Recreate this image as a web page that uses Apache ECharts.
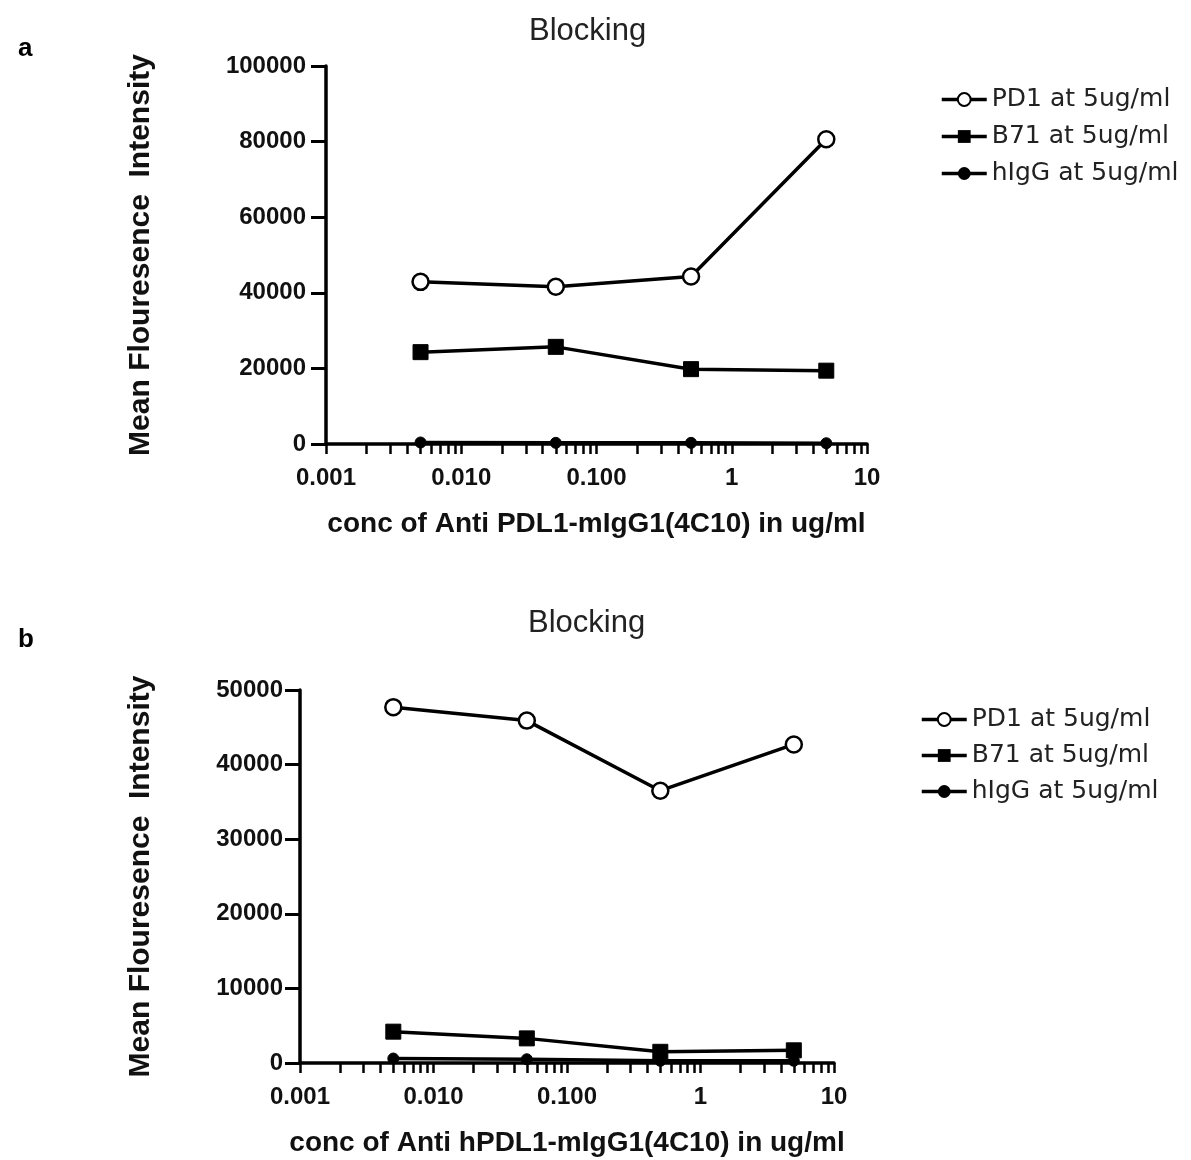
<!DOCTYPE html>
<html>
<head>
<meta charset="utf-8">
<title>Blocking</title>
<script src="https://cdn.jsdelivr.net/npm/echarts@6/dist/echarts.min.js"></script>
<style>
  html, body { margin: 0; padding: 0; background: #fff; }
  #chart { width: 1191px; height: 1160px; }
</style>
</head>
<body>
<div id="chart"></div>
<script>
// concentrations (ug/ml) on the log x axis
const conc = [0.005, 0.05, 0.5, 5];
const xTickLabels = ['0.001', '0.010', '0.100', '1', '10'];
const minorTickValues = [
  0.001, 0.002, 0.003, 0.004, 0.005, 0.006, 0.007, 0.008, 0.009,
  0.01, 0.02, 0.03, 0.04, 0.05, 0.06, 0.07, 0.08, 0.09,
  0.1, 0.2, 0.3, 0.4, 0.5, 0.6, 0.7, 0.8, 0.9,
  1, 2, 3, 4, 5, 6, 7, 8, 9, 10
];
const seriesNames = ['PD1 at 5ug/ml', 'B71 at 5ug/ml', 'hIgG at 5ug/ml'];

// panel a
const pd1A = [42900, 41600, 44300, 80600];
const b71A = [24300, 25700, 19800, 19400];
const higgA = [400, 300, 300, 200];

// panel b
const pd1B = [47700, 45900, 36500, 42700];
const b71B = [4200, 3300, 1500, 1700];
const higgB = [600, 500, 300, 300];

const font = '"Liberation Sans", Arial, sans-serif';

function pairs(values) {
  return values.map((v, i) => [conc[i], v]);
}

function buildSeries(idx, data) {
  const common = {
    type: 'line',
    xAxisIndex: idx,
    yAxisIndex: idx,
    lineStyle: { color: '#000', width: 3.5 },
    itemStyle: { color: '#000', borderColor: '#000' },
    animation: false,
    z: 3
  };
  return [
    Object.assign({}, common, {
      name: seriesNames[0],
      data: pairs(data[0]),
      symbol: 'circle',
      symbolSize: 16,
      itemStyle: { color: '#fff', borderColor: '#000', borderWidth: 2.5 },
      z: 4
    }),
    Object.assign({}, common, {
      name: seriesNames[1],
      data: pairs(data[1]),
      symbol: 'rect',
      symbolSize: 15
    }),
    Object.assign({}, common, {
      name: seriesNames[2],
      data: pairs(data[2]),
      symbol: 'circle',
      symbolSize: 11
    })
  ];
}

function buildXAxis(idx, name) {
  return {
    type: 'log',
    logBase: 10,
    gridIndex: idx,
    min: 0.001,
    max: 10,
    name: name,
    nameLocation: 'middle',
    nameGap: 66,
    nameTextStyle: { fontFamily: font, fontSize: 28, fontWeight: 'bold', color: '#111' },
    axisLine: { lineStyle: { color: '#000', width: 3.5 } },
    axisTick: {
      show: true,
      inside: false,
      length: 10,
      customValues: minorTickValues,
      lineStyle: { color: '#000', width: 2.5 }
    },
    axisLabel: {
      margin: 22,
      fontFamily: font,
      fontSize: 24,
      fontWeight: 'bold',
      color: '#111',
      formatter: function (value, index) {
        return xTickLabels[index];
      }
    },
    splitLine: { show: false },
    minorSplitLine: { show: false }
  };
}

function buildYAxis(idx, max, interval, gap, labelMargin) {
  return {
    type: 'value',
    gridIndex: idx,
    min: 0,
    max: max,
    interval: interval,
    name: 'Mean Flouresence  Intensity',
    nameLocation: 'middle',
    nameGap: gap,
    nameTextStyle: { fontFamily: font, fontSize: 30, fontWeight: 'bold', color: '#111' },
    axisLine: { show: true, onZero: false, lineStyle: { color: '#000', width: 3.5 } },
    axisTick: { show: true, length: 15, lineStyle: { color: '#000', width: 3 } },
    axisLabel: {
      margin: labelMargin,
      fontFamily: font,
      fontSize: 24,
      fontWeight: 'bold',
      color: '#111',
      formatter: function (value) {
        return String(value);
      }
    },
    splitLine: { show: false }
  };
}

function buildLegend(left, top, gap, seriesIdx) {
  return {
    orient: 'vertical',
    left: left,
    top: top,
    itemGap: gap,
    itemWidth: 45,
    itemHeight: 16,
    data: seriesNames,
    lineStyle: { width: 3.5 },
    textStyle: { fontFamily: '"DejaVu Sans", sans-serif', fontSize: 25, color: '#222' },
    seriesIndex: seriesIdx
  };
}

const chart = echarts.init(document.getElementById('chart'), null, { renderer: 'canvas' });

const option = {
  backgroundColor: '#fff',
  animation: false,
  title: [
    { text: 'Blocking', left: 524, top: 11, textStyle: { fontFamily: font, fontSize: 31, fontWeight: 'normal', color: '#222' } },
    { text: 'Blocking', left: 523, top: 603, textStyle: { fontFamily: font, fontSize: 31, fontWeight: 'normal', color: '#222' } },
    { text: 'a', left: 13, top: 31, textStyle: { fontFamily: font, fontSize: 26, fontWeight: 'bold', color: '#000' } },
    { text: 'b', left: 13, top: 622, textStyle: { fontFamily: font, fontSize: 26, fontWeight: 'bold', color: '#000' } }
  ],
  legend: [
    buildLegend(935, 82, 12, [0, 1, 2]),
    buildLegend(915, 702, 11, [3, 4, 5])
  ],
  grid: [
    { left: 326, top: 66, width: 541, height: 378 },
    { left: 300, top: 690, width: 534, height: 373 }
  ],
  xAxis: [
    buildXAxis(0, 'conc of Anti PDL1-mIgG1(4C10) in ug/ml'),
    buildXAxis(1, 'conc of Anti hPDL1-mIgG1(4C10) in ug/ml')
  ],
  yAxis: [
    buildYAxis(0, 100000, 20000, 170, 20),
    buildYAxis(1, 50000, 10000, 144, 17)
  ],
  series: buildSeries(0, [pd1A, b71A, higgA]).concat(buildSeries(1, [pd1B, b71B, higgB]))
};

chart.setOption(option);
</script>
</body>
</html>
